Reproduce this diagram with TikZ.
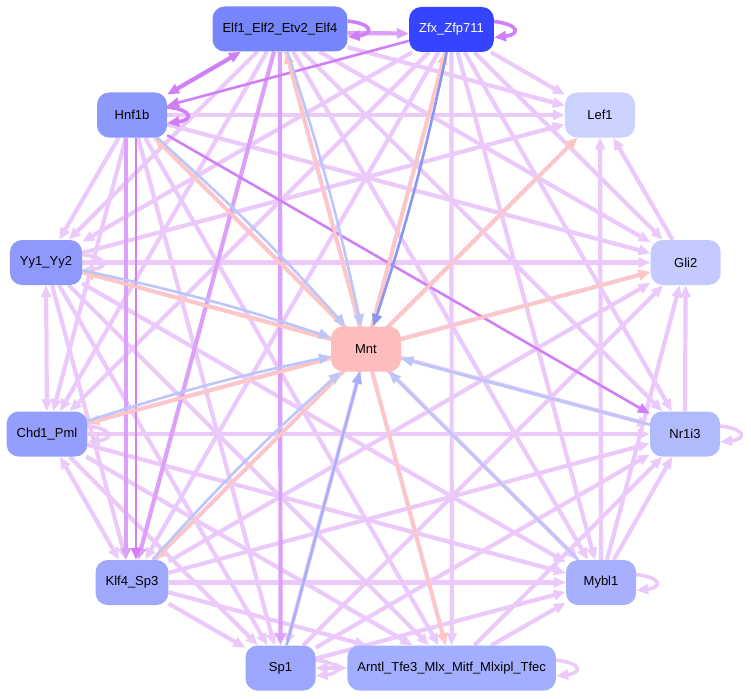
\documentclass[tikz,border=0pt]{standalone}
\usepackage{fontspec}
\setmainfont{Liberation Sans}
\usetikzlibrary{arrows.meta}
\definecolor{cE}{HTML}{7686FA}
\definecolor{cZ}{HTML}{3444FF}
\definecolor{cH}{HTML}{8C98FC}
\definecolor{cL}{HTML}{CCD2FF}
\definecolor{cY}{HTML}{8F99FC}
\definecolor{cG}{HTML}{C4CAFE}
\definecolor{cMnt}{HTML}{FFBCBC}
\definecolor{cC}{HTML}{949EFC}
\definecolor{cN}{HTML}{B2BAFE}
\definecolor{cK}{HTML}{A0A8FC}
\definecolor{cM}{HTML}{A8B0FE}
\definecolor{cS}{HTML}{9CA6FC}
\definecolor{cA}{HTML}{A4AEFE}
\definecolor{LE}{HTML}{EBCAFB}
\definecolor{ME}{HTML}{DCA0F8}
\definecolor{DE}{HTML}{D17FF6}
\definecolor{PK}{HTML}{FFC6C2}
\definecolor{BL}{HTML}{BCC6F8}
\definecolor{BD}{HTML}{8898F2}
\definecolor{BM}{HTML}{A6B2F8}
\begin{document}
\begin{tikzpicture}[x=1pt,y=-1pt,font=\fontsize{13}{15}\selectfont,
  nd/.style={rectangle,rounded corners=12pt,minimum width=70pt,minimum height=45pt,inner xsep=10pt,text=black},
  tip/.style={-{Triangle[length=12pt,width=10pt]}},
  btip/.style={{Triangle[length=12pt,width=10pt]}-{Triangle[length=12pt,width=10pt]}},
  le/.style={draw=LE,line width=4.2pt,tip},
  lb/.style={draw=LE,line width=4.2pt,btip},
  me/.style={draw=ME,line width=4.2pt,tip},
  de/.style={draw=DE,line width=2.6pt,tip},
  db/.style={draw=DE,line width=4.2pt,btip},
  pk/.style={draw=PK,line width=3.2pt,tip},
  bl/.style={draw=BL,line width=2.6pt,tip},
  lp/.style={draw=LE,line width=3.6pt,tip},
  dp/.style={draw=DE,line width=3.6pt,tip}
]
\useasboundingbox (0,0) rectangle (751,698);
% node coordinates
\coordinate (pE) at (280,29);
\coordinate (pZ) at (451.5,29.5);
\coordinate (pH) at (132,115);
\coordinate (pL) at (600,115);
\coordinate (pY) at (46,262.5);
\coordinate (pG) at (685.7,262.5);
\coordinate (pMnt) at (366,349);
\coordinate (pC) at (47,434);
\coordinate (pN) at (685,434);
\coordinate (pK) at (132,582.5);
\coordinate (pM) at (601,582.5);
\coordinate (pS) at (280.5,668);
\coordinate (pA) at (451.7,668);
% invisible shapes for clipping
\node[nd] (E) at (pE) {\phantom{Elf1\_Elf2\_Etv2\_Elf4}};
\node[nd] (Z) at (pZ) {\phantom{Zfx\_Zfp711}};
\node[nd] (H) at (pH) {\phantom{Hnf1b}};
\node[nd] (L) at (pL) {\phantom{Lef1}};
\node[nd] (Y) at (pY) {\phantom{Yy1\_Yy2}};
\node[nd] (G) at (pG) {\phantom{Gli2}};
\node[nd] (Mnt) at (pMnt) {\phantom{Mnt}};
\node[nd] (C) at (pC) {\phantom{Chd1\_Pml}};
\node[nd] (N) at (pN) {\phantom{Nr1i3}};
\node[nd] (K) at (pK) {\phantom{Klf4\_Sp3}};
\node[nd] (M) at (pM) {\phantom{Mybl1}};
\node[nd] (S) at (pS) {\phantom{Sp1}};
\node[nd] (A) at (pA) {\phantom{Arntl\_Tfe3\_Mlx\_Mitf\_Mlxipl\_Tfec}};
% light edges
\foreach \a/\b in {Z/L,Z/Y,Z/G,Z/C,Z/N,Z/K,Z/M,Z/S,Z/A,
  E/L,E/Y,E/G,E/C,E/N,E/M,E/A,
  H/L,H/Y,H/G,H/C,H/M,H/S,H/A,
  Y/G,Y/N,Y/K,Y/M,Y/S,Y/A,Y/L,
  C/G,C/N,C/M,C/S,C/A,
  K/S,S/M,S/N,S/G,
  K/A,K/M,K/N,K/G,K/L,
  A/M,A/N,M/L,M/N,M/G,G/L,N/G}
  {\draw[le] (\a) -- (\b);}
\foreach \a/\b in {Y/C,C/K,S/A}
  {\draw[lb] (\a) -- (\b);}
% medium edges
\draw[me] (E) -- (K);
\draw[me] (E) -- (S);
\draw[me] ([xshift=-6pt]H.south) -- ([xshift=-6pt]K.north);
\draw[me] ([yshift=-4pt]E.east) -- ([yshift=-4pt]Z.west);
% dark edges
\draw[db] (H) -- (E);
\draw[de] (Z) -- (H);
\draw[de] (H) -- (N);
\draw[de] ([xshift=4pt]H.south) -- ([xshift=4pt]K.north);
% self loops
\foreach \n/\s in {E/dp,Z/dp,H/dp,Y/lp,C/lp,N/lp,M/lp,S/lp,A/lp}
  {\draw[\s] ([yshift=8pt]\n.east) .. controls +(26,3) and +(26,-3) .. ([yshift=-8pt]\n.east);}
% Mnt edges
\foreach \b in {E,Z,H,L,G,Y,C,K,A}
  {\draw[pk] (Mnt) -- (\b);}
\foreach \a in {E,H,Y,C,K}
  {\draw[bl] (\a) to[bend left=3] (Mnt);}
\draw[bl] (N) -- (Mnt);
\draw[bl] (M) -- (Mnt);
\draw[bl,draw=BD] (Z) to[bend left=3] (Mnt);
\draw[bl,draw=BM] (S) -- (Mnt);
% visible nodes
\node[nd,fill=cE] at (pE) {Elf1\_Elf2\_Etv2\_Elf4};
\node[nd,fill=cZ,text=white] at (pZ) {Zfx\_Zfp711};
\node[nd,fill=cH] at (pH) {Hnf1b};
\node[nd,fill=cL] at (pL) {Lef1};
\node[nd,fill=cY] at (pY) {Yy1\_Yy2};
\node[nd,fill=cG] at (pG) {Gli2};
\node[nd,fill=cMnt] at (pMnt) {Mnt};
\node[nd,fill=cC] at (pC) {Chd1\_Pml};
\node[nd,fill=cN] at (pN) {Nr1i3};
\node[nd,fill=cK] at (pK) {Klf4\_Sp3};
\node[nd,fill=cM] at (pM) {Mybl1};
\node[nd,fill=cS] at (pS) {Sp1};
\node[nd,fill=cA] at (pA) {Arntl\_Tfe3\_Mlx\_Mitf\_Mlxipl\_Tfec};
\end{tikzpicture}
\end{document}
